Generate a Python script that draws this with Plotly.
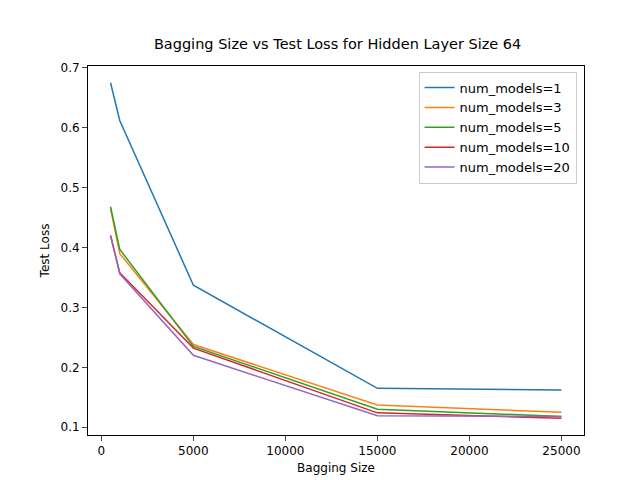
import plotly.graph_objects as go

bagging_sizes = [500, 1000, 5000, 15000, 25000]
loss_m1 = [0.675, 0.612, 0.337, 0.165, 0.162]
loss_m3 = [0.465, 0.390, 0.238, 0.137, 0.125]
loss_m5 = [0.468, 0.397, 0.235, 0.130, 0.118]
loss_m10 = [0.420, 0.358, 0.232, 0.124, 0.115]
loss_m20 = [0.420, 0.356, 0.220, 0.119, 0.118]
x_ticks = [0, 5000, 10000, 15000, 20000, 25000]
x_tick_labels = ["0", "5000", "10000", "15000", "20000", "25000"]

series = [("num_models=1", loss_m1, "#1f77b4"),
          ("num_models=3", loss_m3, "#ff7f0e"),
          ("num_models=5", loss_m5, "#2ca02c"),
          ("num_models=10", loss_m10, "#d62728"),
          ("num_models=20", loss_m20, "#9467bd")]

fig = go.Figure()
for name, ys, color in series:
    fig.add_trace(go.Scatter(x=bagging_sizes, y=ys, mode="lines", name=name,
                             line=dict(color=color, width=1.5)))

axis_style = dict(showline=True, linecolor="black", mirror=True, ticks="outside",
                  showgrid=False, zeroline=False, automargin=False,
                  tickfont=dict(size=12, color="black"))
fig.update_layout(
    width=640, height=480,
    paper_bgcolor="white", plot_bgcolor="white",
    font=dict(family="DejaVu Sans", color="black"),
    title=dict(text="Bagging Size vs Test Loss for Hidden Layer Size 64",
               x=0.515, xanchor="center", y=0.935, font=dict(size=14.5)),
    margin=dict(l=80, r=64, t=58, b=53),
    xaxis=dict(title=dict(text="Bagging Size", font=dict(size=12), standoff=6), range=[-725, 26225],
               tickvals=x_ticks, ticktext=x_tick_labels, **axis_style),
    yaxis=dict(title=dict(text="Test Loss", font=dict(size=12), standoff=8), range=[0.087, 0.703],
               tickvals=[0.1, 0.2, 0.3, 0.4, 0.5, 0.6, 0.7], tickformat=".1f", **axis_style),
    legend=dict(x=0.985, y=0.985, xanchor="right", yanchor="top",
                bordercolor="#cccccc", borderwidth=1, font=dict(size=13)),
)
fig.write_html("out.html")
